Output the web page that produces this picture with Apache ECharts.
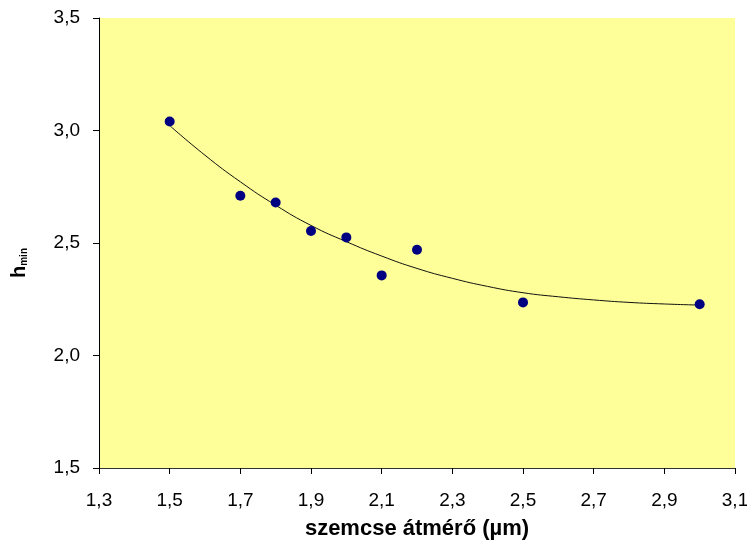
<!DOCTYPE html>
<html>
<head>
<meta charset="utf-8">
<script src="https://cdn.jsdelivr.net/npm/echarts@6/dist/echarts.min.js"></script>
<style>
  html, body { margin: 0; padding: 0; background: #fff; }
  #chart { width: 747px; height: 540px; }
</style>
</head>
<body>
<div id="chart"></div>
<script>
// mért pontok (szemcse átmérő, hmin)
const diam = [1.5, 1.7, 1.8, 1.9, 2.0, 2.1, 2.2, 2.5, 3.0]
const hmin = [3.04, 2.71, 2.68, 2.553, 2.525, 2.356, 2.47, 2.236, 2.228]
// trendvonal
const trendX = [1.5, 1.6, 1.7, 1.8, 1.9, 2.0, 2.1, 2.2, 2.3, 2.4, 2.5, 2.6, 2.7, 2.8, 2.9, 3.0]
const trendY = [3.022, 2.89, 2.772, 2.668, 2.578, 2.506, 2.442, 2.387, 2.343, 2.307, 2.279, 2.261, 2.247, 2.236, 2.229, 2.224]
// tengely feliratok
const xTicks = [1.3, 1.5, 1.7, 1.9, 2.1, 2.3, 2.5, 2.7, 2.9, 3.1]

const fmt = v => Number(v).toFixed(1).replace('.', ',')
const font = '"Liberation Sans", Arial, sans-serif'

const myChart = echarts.init(document.getElementById('chart'))
const option = {
  animation: false,
  textStyle: { fontFamily: font },
  grid: {
    left: 99,
    right: 12,
    top: 18,
    bottom: 72,
    outerBoundsMode: 'none',
    containLabel: false,
    show: true,
    backgroundColor: '#FFFF99',
    borderWidth: 0
  },
  xAxis: {
    type: 'value',
    min: 1.3,
    max: 3.1,
    name: 'szemcse átmérő (µm)',
    nameLocation: 'middle',
    nameGap: 50,
    nameTextStyle: { fontSize: 22, fontWeight: 'bold', color: '#000', fontFamily: font },
    axisLine: { lineStyle: { color: '#333', width: 1 } },
    axisTick: { show: true, length: 6, inside: false, customValues: xTicks, lineStyle: { color: '#000' } },
    axisLabel: { customValues: xTicks, formatter: fmt, fontSize: 19, color: '#000', margin: 23 },
    splitLine: { show: false }
  },
  yAxis: {
    type: 'value',
    min: 1.5,
    max: 3.5,
    interval: 0.5,
    name: '{a|h}{b|min}',
    nameLocation: 'middle',
    nameGap: 70,
    nameRotate: 90,
    nameTextStyle: {
      padding: [0, 40, 0, 0],
      rich: {
        a: { fontSize: 20, fontWeight: 'bold', color: '#000', fontFamily: font },
        b: { fontSize: 10, fontWeight: 'bold', color: '#000', fontFamily: font, padding: [10, 0, 0, 0] }
      }
    },
    axisLine: { show: true, lineStyle: { color: '#000', width: 1 } },
    axisTick: { show: true, length: 6, inside: false, lineStyle: { color: '#000' } },
    axisLabel: { formatter: fmt, fontSize: 19, color: '#000', margin: 19 },
    splitLine: { show: false }
  },
  series: [
    {
      name: 'trend',
      type: 'line',
      data: trendX.map((x, i) => [x, trendY[i]]),
      smooth: true,
      showSymbol: false,
      lineStyle: { color: '#111', width: 1 },
      z: 2
    },
    {
      name: 'hmin',
      type: 'scatter',
      data: diam.map((x, i) => [x, hmin[i]]),
      symbolSize: 10,
      itemStyle: { color: '#000080', opacity: 1 },
      z: 3
    }
  ]
}
myChart.setOption(option)
</script>
</body>
</html>
